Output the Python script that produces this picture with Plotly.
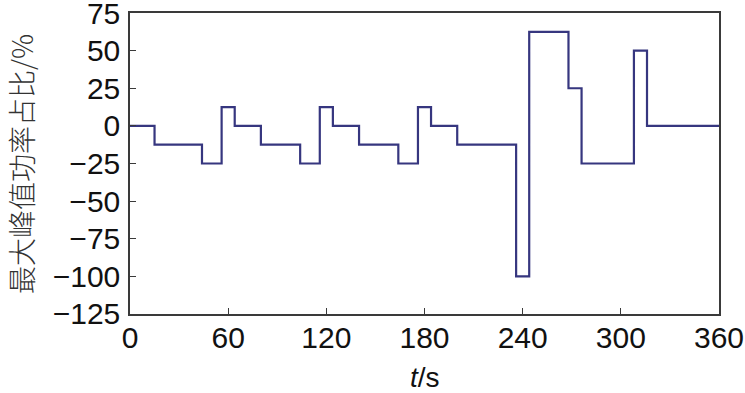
import plotly.graph_objects as go

times = [0, 15, 44, 56, 64, 80, 104, 116, 124, 140, 164, 176, 184, 200, 236, 244, 268, 276, 308, 316, 360]
values = [0, -12.5, -25, 12.5, 0, -12.5, -25, 12.5, 0, -12.5, -25, 12.5, 0, -12.5, -100, 62.5, 25, -25, 50, 0, 0]
x_ticks = [0, 60, 120, 180, 240, 300, 360]
y_ticks = [75, 50, 25, 0, -25, -50, -75, -100, -125]

fig = go.Figure()
fig.add_trace(go.Scatter(x=times, y=values, mode="lines", line=dict(color="#36367f", width=2.2, shape="hv")))

axis_common = dict(showgrid=False, zeroline=False, showline=True, linecolor="#3a3a3a", linewidth=1.5,
                   mirror=True, ticks="inside", ticklen=6, tickwidth=1.3, tickcolor="#3a3a3a",
                   ticklabeloverflow="allow", automargin=False,
                   tickfont=dict(family="Liberation Sans, Arial", size=30, color="#111111"))
fig.update_xaxes(range=[0, 360], tickvals=x_ticks, ticktext=[str(v) for v in x_ticks],
                 ticklabelstandoff=-4, **axis_common)
fig.update_yaxes(range=[-125.02, 75.02], tickvals=y_ticks, ticktext=[str(v).replace("-", "\u2212") for v in y_ticks],
                 ticklabelstandoff=2, **axis_common)

fig.add_annotation(text="<i>t</i>/s", xref="paper", yref="paper", x=0.5, y=-0.212, yanchor="middle",
                   showarrow=False, font=dict(family="Liberation Sans, Arial", size=28, color="#111111"))
fig.add_annotation(text="最大峰值功率占比/%", xref="paper", yref="paper", x=-0.186, y=0.5, textangle=-90,
                   xanchor="center", yanchor="middle", showarrow=False,
                   font=dict(family="Noto Sans CJK SC", size=28, color="#333333", weight=300))

fig.update_layout(width=745, height=393, margin=dict(l=130, r=26, t=13, b=79, autoexpand=False),
                  paper_bgcolor="white", plot_bgcolor="white", showlegend=False)
fig.write_html("out.html", config={"displayModeBar": False},
               post_script="document.body.style.margin='0';document.body.style.overflow='hidden';")
